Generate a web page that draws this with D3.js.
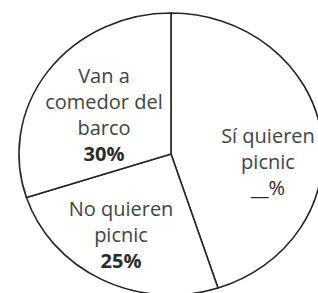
<!DOCTYPE html>
<html>
<head>
<meta charset="utf-8">
<script src="https://cdn.jsdelivr.net/npm/d3@7"></script>
<style>
  html, body { margin: 0; padding: 0; background: #fff; }
  svg { display: block; }
</style>
</head>
<body>
<svg id="chart" width="318" height="293"></svg>
<script>
// Data
const categories = ["Sí quieren picnic", "No quieren picnic", "Van a comedor del barco"];
const values = [45, 25, 30];
const labelLines = [
  ["Sí quieren", "picnic", "__%"],
  ["No quieren", "picnic", "25%"],
  ["Van a", "comedor del", "barco", "30%"]
];

const W = 318, H = 293;
const cx = 171, cy = 154, rx = 152, ry = 141;

const svg = d3.select("#chart");
svg.append("rect").attr("width", W).attr("height", H).attr("fill", "#fff");

const pie = d3.pie().sort(null).value(d => d)(values);
const arc = d3.arc().innerRadius(0).outerRadius(rx);

const g = svg.append("g")
  .attr("transform", `translate(${cx},${cy}) scale(1,${ry / rx})`);

g.selectAll("path.slice")
  .data(pie)
  .join("path")
  .attr("class", "slice")
  .attr("d", arc)
  .attr("fill", "#fff")
  .attr("stroke", "#262626")
  .attr("stroke-width", 1.6)
  .attr("vector-effect", "non-scaling-stroke")
  .attr("stroke-linejoin", "round");

// Label placement: centroid on a label arc, plus small nudges (layout only)
const labelRadius = [105, 100, 82];
const nudge = [[-6.7, 24], [-4.6, -1], [-0.7, 7]];
const lineH = 26;

const labels = svg.append("g").attr("transform", `translate(${cx},${cy})`);
pie.forEach((p, i) => {
  const a = (p.startAngle + p.endAngle) / 2;
  const r = labelRadius[i];
  const x = Math.sin(a) * r + nudge[i][0];
  const y = -Math.cos(a) * r * (ry / rx) + nudge[i][1];
  const lines = labelLines[i];
  const t = labels.append("text")
    .attr("text-anchor", "middle")
    .attr("font-family", "'Open Sans', 'Noto Sans', sans-serif")
    .attr("font-size", 20)
    .attr("fill", "#3f4542");
  const y0 = y - (lines.length - 1) * lineH / 2 + 6;
  lines.forEach((ln, j) => {
    const isLast = j === lines.length - 1;
    t.append("tspan")
      .attr("x", x)
      .attr("y", y0 + j * lineH)
      .attr("font-weight", isLast && i !== 0 ? "bold" : "normal")
      .attr("fill", isLast ? "#2b2b2b" : "#3f4542")
      .text(ln);
  });
});
</script>
</body>
</html>
